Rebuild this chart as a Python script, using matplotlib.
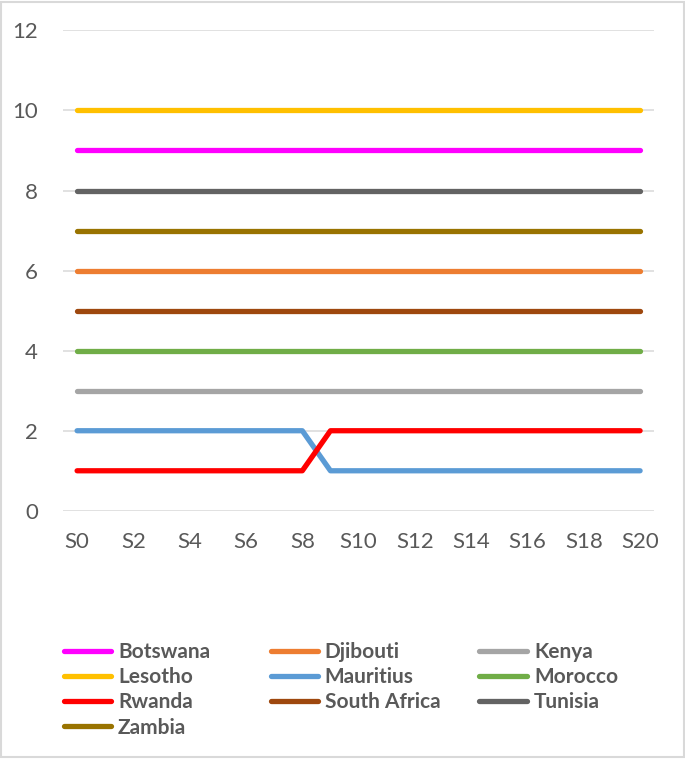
import matplotlib.pyplot as plt
from matplotlib.patches import Rectangle

# categories S0..S20
steps = [f"S{i}" for i in range(21)]

botswana = [9] * 21
djibouti = [6] * 21
kenya = [3] * 21
lesotho = [10] * 21
mauritius = [2, 2, 2, 2, 2, 2, 2, 2, 2, 1, 1, 1, 1, 1, 1, 1, 1, 1, 1, 1, 1]
morocco = [4] * 21
rwanda = [1, 1, 1, 1, 1, 1, 1, 1, 1, 2, 2, 2, 2, 2, 2, 2, 2, 2, 2, 2, 2]
south_africa = [5] * 21
tunisia = [8] * 21
zambia = [7] * 21

series = [
    ("Botswana", botswana, "#FF00FF"),
    ("Djibouti", djibouti, "#ED7D31"),
    ("Kenya", kenya, "#A5A5A5"),
    ("Lesotho", lesotho, "#FFC000"),
    ("Mauritius", mauritius, "#5B9BD5"),
    ("Morocco", morocco, "#70AD47"),
    ("Rwanda", rwanda, "#FF0000"),
    ("South Africa", south_africa, "#9E480E"),
    ("Tunisia", tunisia, "#636363"),
    ("Zambia", zambia, "#997300"),
]

plt.rcParams["font.family"] = ["Lato", "DejaVu Sans"]

fig = plt.figure(figsize=(6.85, 7.59), dpi=100)
ax = fig.add_axes([0.092, 0.327, 0.863, 0.633])

x = list(range(len(steps)))
handles = []
for name, vals, color in series:
    (ln,) = ax.plot(x, vals, color=color, lw=3.8, solid_capstyle="round",
                    solid_joinstyle="round", label=name)
    handles.append(ln)

ax.set_xlim(-0.5, 20.5)
ax.set_ylim(0, 12)
ax.set_yticks(range(0, 13, 2))
ax.set_xticks(x[::2])
ax.set_xticklabels(steps[::2])
ax.yaxis.grid(True, color="#D9D9D9", lw=1.1)
ax.set_axisbelow(True)
for s in ax.spines.values():
    s.set_visible(False)
ax.tick_params(axis="both", length=0, labelsize=16, labelcolor="#595959")
ax.tick_params(axis="x", pad=15)
ax.tick_params(axis="y", pad=18)

# Excel lays the legend out row by row in equal-width columns,
# so build one single-column legend per column
col_x = [63.5 / 685, 270.5 / 685, 479.5 / 685]
for c in range(3):
    idx = list(range(c, len(series), 3))
    leg = fig.legend(
        [handles[i] for i in idx],
        [series[i][0] for i in idx],
        loc="upper left",
        bbox_to_anchor=(col_x[c], 0.1543),
        frameon=False,
        borderpad=0,
        borderaxespad=0,
        handlelength=2.3,
        handletextpad=0.31,
        labelspacing=0.25,
        prop={"size": 15, "weight": "bold"},
    )
    for t in leg.get_texts():
        t.set_color("#595959")

fig.patches.append(Rectangle((0.002, 0.002), 0.996, 0.996, transform=fig.transFigure,
                             fill=False, edgecolor="#D9D9D9", lw=1.5))

fig.savefig("out.png", dpi=100)
